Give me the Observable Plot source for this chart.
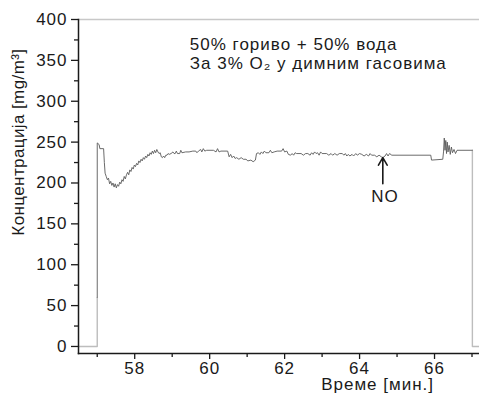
<!DOCTYPE html>
<html>
<head>
<meta charset="utf-8">
<script src="https://cdn.jsdelivr.net/npm/d3@7"></script>
<script src="https://cdn.jsdelivr.net/npm/@observablehq/plot@0.6"></script>
<style>
  html, body { margin: 0; padding: 0; background: #fff; }
  #chart svg { display: block; }
  #chart svg text { letter-spacing: 1px; }
</style>
</head>
<body>
<div id="chart"></div>
<script>
// ---- data ----
const times = [57.00, 57.00, 57.05, 57.07, 57.17, 57.19, 57.21, 57.24, 57.27, 57.30, 57.33, 57.36, 57.39, 57.42, 57.45, 57.48, 57.51, 57.54, 57.57, 57.60, 57.63, 57.66, 57.69, 57.72, 57.75, 57.78, 57.81, 57.84, 57.87, 57.90, 57.93, 57.96, 57.99, 58.02, 58.05, 58.08, 58.11, 58.14, 58.17, 58.20, 58.23, 58.26, 58.29, 58.32, 58.35, 58.38, 58.41, 58.44, 58.47, 58.50, 58.53, 58.56, 58.59, 58.62, 58.65, 58.68, 58.71, 58.74, 58.77, 58.80, 58.83, 58.86, 58.89, 58.92, 58.97, 59.02, 59.05, 59.08, 59.11, 59.14, 59.20, 59.23, 59.26, 59.36, 59.45, 59.55, 59.63, 59.66, 59.70, 59.76, 59.79, 59.83, 59.87, 59.92, 60.10, 60.17, 60.21, 60.25, 60.30, 60.48, 60.52, 60.56, 60.60, 60.64, 60.68, 60.72, 60.78, 60.84, 60.90, 60.97, 61.02, 61.10, 61.16, 61.22, 61.25, 61.30, 61.34, 61.38, 61.42, 61.46, 61.50, 61.58, 61.62, 61.66, 61.72, 61.80, 61.92, 61.96, 62.00, 62.06, 62.10, 62.16, 62.20, 62.24, 62.28, 62.32, 62.44, 62.50, 62.56, 62.62, 62.68, 62.72, 62.76, 62.80, 62.84, 62.88, 62.92, 62.96, 63.00, 63.12, 63.18, 63.24, 63.28, 63.34, 63.40, 63.46, 63.54, 63.58, 63.62, 63.66, 63.70, 63.74, 63.80, 63.84, 63.90, 63.94, 64.00, 64.06, 64.12, 64.18, 64.24, 64.28, 64.32, 64.40, 64.46, 64.52, 64.58, 64.62, 64.68, 64.72, 64.76, 64.80, 64.86, 65.90, 65.92, 66.22, 66.24, 66.26, 66.28, 66.30, 66.32, 66.34, 66.36, 66.39, 66.42, 66.45, 66.48, 66.52, 66.56, 66.60, 67.01];
const conc  = [60, 249, 247, 242, 242, 225, 212, 208, 204, 206, 199, 202, 197, 200, 195, 199, 194, 198, 196, 201, 199, 204, 202, 208, 205, 210, 213, 210, 216, 214, 219, 217, 222, 220, 224, 222, 227, 225, 229, 227, 231, 229, 233, 231, 235, 233, 237, 235, 239, 236, 240, 237, 241, 238, 236, 237, 232, 231, 233, 231, 234, 234, 236, 235, 236, 238, 236, 236, 239, 236, 236, 240, 237, 238, 238, 239, 239, 237, 239, 241, 238, 242, 239, 240, 240, 238, 242, 238, 239, 239, 232, 235, 231, 233, 230, 231, 229, 231, 229, 229, 227, 228, 226, 228, 236, 237, 235, 238, 236, 239, 237, 237, 240, 237, 238, 239, 239, 242, 238, 239, 235, 234, 236, 234, 237, 236, 236, 234, 236, 236, 234, 237, 235, 238, 236, 237, 234, 238, 236, 236, 234, 236, 234, 236, 234, 236, 236, 234, 236, 233, 235, 233, 235, 233, 236, 234, 236, 235, 233, 235, 233, 236, 234, 234, 232, 234, 232, 231, 233, 236, 233, 236, 234, 234, 228, 229, 238, 255, 240, 252, 236, 250, 238, 246, 235, 244, 237, 241, 236, 240, 240];
// baseline (instrument off) segments before and after the run
const offTimes = [56.5, 57.0, 57.0];
const offConc  = [0, 0, 60];
const endTimes = [67.01, 67.01, 67.2];
const endConc  = [240, 0, 0];

const yMajor = [0, 50, 100, 150, 200, 250, 300, 350, 400];
const yMinor = [25, 75, 125, 175, 225, 275, 325, 375];
const xMajor = [58, 60, 62, 64, 66];
const xMinor = [57, 59, 61, 63, 65, 67];

const xDomain = [56.5, 67.2];
const yDomain = [-8.6, 400];

const yLabel = "Концентрација [mg/m³]";
const xLabel = "Време [мин.]";
const noteLines = ["50% гориво + 50% вода", "За 3% O₂ у димним гасовима"];
const noteX = 59.47;
const noteY = [369, 346];
const seriesName = "NO";
const arrowX = 64.62, arrowFrom = 199, arrowTo = 231;
const seriesLabelX = 64.68, seriesLabelY = 183;
const xLabelX = 64.48;
const yLabelY = 250;

// ---- tables ----
const main = times.map((t, i) => ({t, v: conc[i]}));
const off = offTimes.map((t, i) => ({t, v: offConc[i]}));
const end = endTimes.map((t, i) => ({t, v: endConc[i]}));
const notes = noteLines.map((s, i) => ({s, x: noteX, y: noteY[i]}));

const font = "'Liberation Sans', Arial, Helvetica, sans-serif";
const ink = "#1a1a1a";

const chart = Plot.plot({
  width: 479,
  height: 397,
  marginLeft: 78,
  marginRight: 0,
  marginTop: 19,
  marginBottom: 44,
  style: {fontFamily: font, fontSize: "17px", color: ink, background: "#fff"},
  x: {domain: xDomain},
  y: {domain: yDomain},
  marks: [
    Plot.ruleY([400], {stroke: "#c8c8c8", strokeWidth: 1.5}),
    Plot.line(off, {x: "t", y: "v", stroke: "#bdbdbd", strokeWidth: 1.4}),
    Plot.line(end, {x: "t", y: "v", stroke: "#bdbdbd", strokeWidth: 1.4}),
    Plot.line(main, {x: "t", y: "v", stroke: "#5a5a5a", strokeWidth: 0.9}),
    Plot.frame({anchor: "left", stroke: ink, strokeWidth: 1.5}),
    Plot.frame({anchor: "bottom", stroke: ink, strokeWidth: 1.5}),
    Plot.axisY(yMajor, {tickSize: 7, tickPadding: 4, fontSize: 17, label: null, stroke: ink, strokeWidth: 1.3, fill: ink}),
    Plot.axisY(yMinor, {tickSize: 4, tickFormat: () => "", label: null, stroke: ink, strokeWidth: 1.3}),
    Plot.axisX(xMajor, {tickSize: 6, tickPadding: 2, fontSize: 17, label: null, stroke: ink, strokeWidth: 1.3, fill: ink}),
    Plot.axisX(xMinor, {tickSize: 4, tickFormat: () => "", label: null, stroke: ink, strokeWidth: 1.3}),
    Plot.text([yLabel], {x: () => xDomain[0], y: () => yLabelY, dx: -60, rotate: -90, text: d => d, fontSize: 17, fill: ink}),
    Plot.text([xLabel], {x: () => xLabelX, frameAnchor: "bottom", dy: 36, text: d => d, fontSize: 17, fill: ink}),
    Plot.text(notes, {x: "x", y: "y", text: "s", textAnchor: "start", fontSize: 17, fill: ink}),
    Plot.arrow([0], {x1: () => arrowX, x2: () => arrowX, y1: () => arrowFrom, y2: () => arrowTo, stroke: ink, strokeWidth: 1.6, headLength: 9}),
    Plot.text([seriesName], {x: () => seriesLabelX, y: () => seriesLabelY, text: d => d, fontSize: 17, fill: ink})
  ]
});
document.getElementById("chart").appendChild(chart);
d3.select(chart).selectAll("text")
  .filter(function () { return this.textContent === yLabel; })
  .style("letter-spacing", "0.4px");
</script>
</body>
</html>
